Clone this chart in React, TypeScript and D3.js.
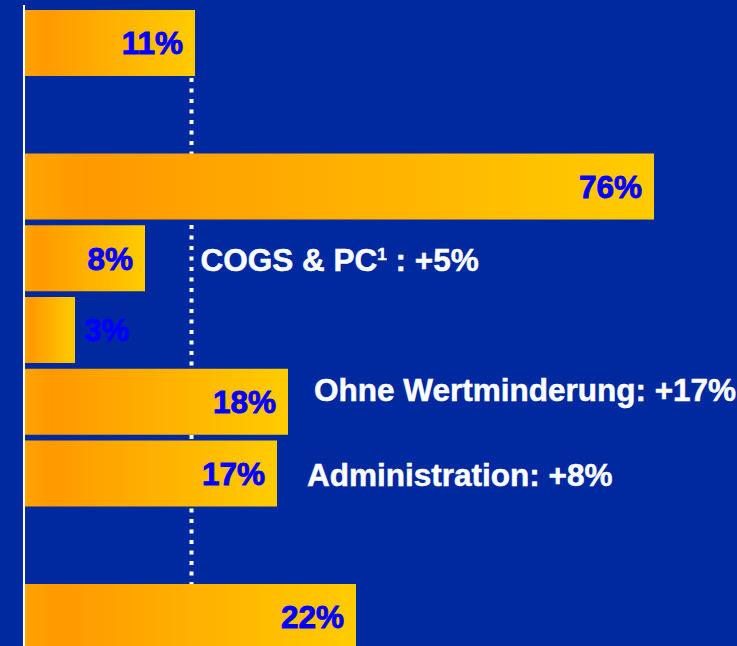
import { useEffect, useRef } from 'react';
import * as d3 from 'd3';

const WIDTH = 737;
const HEIGHT = 646;

// row slots, gap rows stay empty
const rows = ['r0', 'gap1', 'r2', 'r3', 'r4', 'r5', 'r6', 'gap7', 'r8'];
const barRows = ['r0', 'r2', 'r3', 'r4', 'r5', 'r6', 'r8'];
const barValues = [34, 125.8, 24, 10, 52.6, 50.4, 66.2];
const barLabels = ['11%', '76%', '8%', '3%', '18%', '17%', '22%'];

const refValue = 33.3;

const notes = [
  { row: 'r3', text: 'COGS & PC', sup: '1', tail: ' : +5%', anchor: 'ref', dx: 9, dy: 13 },
  { row: 'r5', text: 'Ohne Wertminderung: +17%', sup: '', tail: '', anchor: 'bar', dx: 26, dy: -1 },
  { row: 'r6', text: 'Administration: +8%', sup: '', tail: '', anchor: 'bar', dx: 30, dy: 13 },
];

const BG = '#0029A0';
const FONT = '"Liberation Sans", Arial, Helvetica, sans-serif';

export default function App() {
  const svgRef = useRef<SVGSVGElement>(null);

  useEffect(() => {
    if (!svgRef.current) return;
    const svg = d3.select(svgRef.current);
    svg.selectAll('*').remove();

    const x = d3.scaleLinear().domain([0, 140]).range([25, 725]);
    const y = d3.scaleBand<string>().domain(rows).range([10, 650]).paddingInner(0.08).paddingOuter(0);

    const defs = svg.append('defs');
    const grad = defs.append('linearGradient')
      .attr('id', 'barGrad')
      .attr('x1', '0%').attr('x2', '100%')
      .attr('y1', '0%').attr('y2', '0%');
    grad.append('stop').attr('offset', '0%').attr('stop-color', '#FFA400');
    grad.append('stop').attr('offset', '10%').attr('stop-color', '#FF9900');
    grad.append('stop').attr('offset', '100%').attr('stop-color', '#FFCC00');

    svg.append('rect')
      .attr('width', WIDTH)
      .attr('height', HEIGHT)
      .attr('fill', BG);

    const data = barRows.map((r, i) => ({ row: r, value: barValues[i], label: barLabels[i] }));

    // dotted reference line (behind bars)
    svg.append('line')
      .attr('x1', x(refValue))
      .attr('x2', x(refValue))
      .attr('y1', (y('r0') || 0) + y.bandwidth() + 2)
      .attr('y2', y('r8') || 0)
      .attr('stroke', '#ffffff')
      .attr('stroke-width', 4)
      .attr('stroke-dasharray', '4,6.5');

    // bars
    svg.selectAll('.bar')
      .data(data)
      .join('rect')
      .attr('class', 'bar')
      .attr('x', x(0))
      .attr('y', (d) => y(d.row) || 0)
      .attr('width', (d) => x(d.value) - x(0))
      .attr('height', y.bandwidth())
      .attr('fill', 'url(#barGrad)');

    const outside = (v: number) => x(v) - x(0) < 70;

    // value labels
    svg.selectAll('.val')
      .data(data)
      .join('text')
      .attr('class', 'val')
      .attr('x', (d) => (outside(d.value) ? x(d.value) + 9 : x(d.value) - 12))
      .attr('y', (d) => (y(d.row) || 0) + y.bandwidth() / 2)
      .attr('dy', '0.36em')
      .attr('text-anchor', (d) => (outside(d.value) ? 'start' : 'end'))
      .style('font-family', FONT)
      .style('font-weight', 'bold')
      .style('font-size', '31.5px')
      .style('fill', '#0000FF')
      .style('stroke', '#0000FF')
      .style('stroke-width', '0.9px')
      .text((d) => d.label);

    // axis line
    svg.append('line')
      .attr('x1', 24).attr('x2', 24)
      .attr('y1', 5).attr('y2', HEIGHT)
      .attr('stroke', '#ffffff')
      .attr('stroke-width', 2);

    // annotations
    notes.forEach((n) => {
      const idx = barRows.indexOf(n.row);
      const baseX = n.anchor === 'ref' ? x(refValue) : x(barValues[idx]);
      const t = svg.append('text')
        .attr('x', baseX + n.dx)
        .attr('y', (y(n.row) || 0) + y.bandwidth() / 2 + n.dy)
        .style('font-family', FONT)
        .style('font-weight', 'bold')
        .style('font-size', '31.5px')
        .style('fill', '#ffffff')
        .style('stroke', '#ffffff')
        .style('stroke-width', '0.5px');
      t.append('tspan').text(n.text);
      if (n.sup) {
        t.append('tspan')
          .attr('dy', -11)
          .style('font-size', '17px')
          .text(n.sup);
        t.append('tspan').attr('dy', 11).text(n.tail);
      }
    });
  }, []);

  return (
    <div style={{ position: 'fixed', left: 0, top: 0 }}>
      <svg ref={svgRef} width={WIDTH} height={HEIGHT} style={{ display: 'block' }} />
    </div>
  );
}
